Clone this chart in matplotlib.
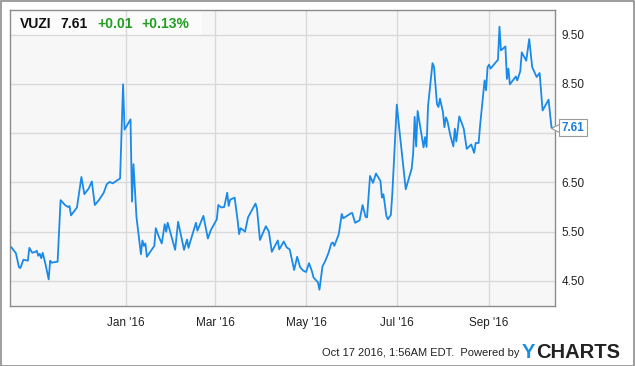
import matplotlib.pyplot as plt
from matplotlib.patches import Rectangle
import pandas as pd

# VUZI daily close
dates = [
    '2015-10-16', '2015-10-19', '2015-10-21', '2015-10-22', '2015-10-24', '2015-10-27',
    '2015-10-28', '2015-10-30', '2015-11-01', '2015-11-02', '2015-11-03', '2015-11-04',
    '2015-11-05', '2015-11-06', '2015-11-08', '2015-11-10', '2015-11-11', '2015-11-12',
    '2015-11-16', '2015-11-18', '2015-11-21', '2015-11-23', '2015-11-24', '2015-11-25',
    '2015-11-29', '2015-12-02', '2015-12-04', '2015-12-07', '2015-12-09', '2015-12-11',
    '2015-12-14', '2015-12-17', '2015-12-19', '2015-12-21', '2015-12-23', '2015-12-28',
    '2015-12-30', '2015-12-31', '2016-01-04', '2016-01-05', '2016-01-06', '2016-01-08',
    '2016-01-11', '2016-01-12', '2016-01-13', '2016-01-14', '2016-01-15', '2016-01-20',
    '2016-01-21', '2016-01-23', '2016-01-25', '2016-01-27', '2016-01-28', '2016-01-29',
    '2016-02-03', '2016-02-05', '2016-02-09', '2016-02-11', '2016-02-12', '2016-02-13',
    '2016-02-17', '2016-02-18', '2016-02-22', '2016-02-25', '2016-02-27', '2016-03-02',
    '2016-03-03', '2016-03-05', '2016-03-07', '2016-03-09', '2016-03-10', '2016-03-11',
    '2016-03-14', '2016-03-16', '2016-03-17', '2016-03-18', '2016-03-21', '2016-03-23',
    '2016-03-28', '2016-03-29', '2016-03-31', '2016-04-02', '2016-04-04', '2016-04-06',
    '2016-04-08', '2016-04-12', '2016-04-13', '2016-04-16', '2016-04-18', '2016-04-20',
    '2016-04-23', '2016-04-25', '2016-04-27', '2016-04-29', '2016-05-01', '2016-05-03',
    '2016-05-05', '2016-05-06', '2016-05-09', '2016-05-10', '2016-05-12', '2016-05-14',
    '2016-05-16', '2016-05-18', '2016-05-19', '2016-05-20', '2016-05-23', '2016-05-25',
    '2016-05-26', '2016-05-31', '2016-06-01', '2016-06-03', '2016-06-06', '2016-06-08',
    '2016-06-10', '2016-06-11', '2016-06-13', '2016-06-15', '2016-06-17', '2016-06-20',
    '2016-06-21', '2016-06-22', '2016-06-24', '2016-06-25', '2016-06-27', '2016-06-28',
    '2016-07-01', '2016-07-03', '2016-07-07', '2016-07-11', '2016-07-12', '2016-07-13',
    '2016-07-14', '2016-07-15', '2016-07-19', '2016-07-20', '2016-07-21', '2016-07-22',
    '2016-07-25', '2016-07-26', '2016-07-28', '2016-07-29', '2016-07-30', '2016-08-01',
    '2016-08-02', '2016-08-03', '2016-08-04', '2016-08-06', '2016-08-08', '2016-08-09',
    '2016-08-10', '2016-08-12', '2016-08-15', '2016-08-17', '2016-08-20', '2016-08-22',
    '2016-08-23', '2016-08-25', '2016-08-26', '2016-08-29', '2016-08-30', '2016-08-31',
    '2016-09-01', '2016-09-02', '2016-09-07', '2016-09-08', '2016-09-09', '2016-09-12',
    '2016-09-13', '2016-09-14', '2016-09-15', '2016-09-19', '2016-09-20', '2016-09-22',
    '2016-09-23', '2016-09-26', '2016-09-28', '2016-09-30', '2016-10-03', '2016-10-05',
    '2016-10-07', '2016-10-11', '2016-10-13', '2016-10-14',
]
prices = [
    5.18, 5.06, 4.78, 4.76, 4.93, 4.91,
    5.17, 5.07, 5.09, 5.11, 5.01, 5.05,
    4.96, 5.07, 4.82, 4.53, 4.91, 4.87,
    4.89, 6.14, 6.04, 6.00, 6.02, 5.83,
    5.99, 6.61, 6.26, 6.38, 6.52, 6.04,
    6.15, 6.29, 6.46, 6.51, 6.48, 6.58,
    8.49, 7.57, 7.78, 6.11, 6.87, 5.80,
    5.04, 5.32, 5.21, 5.26, 4.99, 5.21,
    5.57, 5.40, 5.26, 5.65, 5.50, 5.68,
    5.13, 5.70, 5.13, 5.34, 5.17, 5.28,
    5.68, 5.52, 5.82, 5.36, 5.53, 5.75,
    6.04, 5.99, 6.00, 6.29, 6.02, 6.15,
    6.19, 5.73, 5.45, 5.57, 5.50, 5.79,
    6.07, 5.97, 5.33, 5.47, 5.61, 5.50,
    5.09, 5.32, 5.14, 5.30, 5.18, 5.14,
    4.72, 4.99, 4.78, 4.71, 4.68, 4.86,
    4.69, 4.57, 4.47, 4.32, 4.79, 4.91,
    5.06, 5.26, 5.28, 5.21, 5.45, 5.86,
    5.77, 5.87, 5.88, 5.68, 5.73, 6.04,
    5.80, 5.79, 6.63, 6.49, 6.68, 6.53,
    6.19, 6.26, 5.82, 5.75, 5.84, 6.28,
    8.08, 7.49, 6.36, 6.78, 7.09, 7.83,
    7.23, 7.95, 7.21, 7.42, 7.22, 8.05,
    8.92, 8.85, 8.09, 8.03, 8.20, 7.93,
    7.62, 7.82, 7.75, 7.45, 7.23, 7.59,
    7.33, 7.84, 7.59, 7.18, 7.27, 7.10,
    7.30, 7.30, 7.66, 8.57, 8.37, 8.84,
    8.89, 8.81, 8.99, 9.66, 9.18, 9.26,
    8.60, 8.81, 8.49, 8.65, 8.57, 8.76,
    9.14, 8.97, 9.41, 8.84, 8.64, 8.72,
    7.96, 8.18, 7.61, 7.61,
]

ticker = 'VUZI'
lastPrice = '7.61'
change = '+0.01'
changePct = '+0.13%'
yTicks = [4.5, 5.5, 6.5, 7.5, 8.5, 9.5]
# the 7.50 label sits under the last-price tag in the original
yTickLabels = ['4.50', '5.50', '6.50', '', '8.50', '9.50']
xTickDates = ['2016-01-01', '2016-03-01', '2016-05-01', '2016-07-01', '2016-09-01']
xTickLabels = ["Jan '16", "Mar '16", "May '16", "Jul '16", "Sep '16"]
footer = 'Oct 17 2016, 1:56AM EDT.  Powered by'

linecolor = '#1a8ae8'
gridcolor = '#d9d9d9'
facecolor = '#f7f7f7'
green = '#1f9e1f'

plt.rcParams['font.family'] = ['Liberation Sans', 'DejaVu Sans']

x = pd.to_datetime(dates)

fig = plt.figure(figsize=(6.35, 3.66), dpi=100, facecolor='white')
ax = fig.add_axes([10/635, 1-306/366, 544.5/635, 296/366])
ax.set_facecolor(facecolor)
ax.plot(x, prices, color=linecolor, linewidth=1.3, zorder=3)

ax.set_xlim(pd.Timestamp('2015-10-15'), pd.Timestamp('2016-10-15'))
ax.set_ylim(3.99, 10.0)

ax.set_xticks(pd.to_datetime(xTickDates))
ax.set_xticklabels(xTickLabels, fontsize=8.5, color='#222222')
ax.set_yticks(yTicks)
ax.set_yticklabels(yTickLabels, fontsize=8.5, color='#222222')
ax.yaxis.tick_right()
ax.tick_params(axis='both', length=0, pad=5)
ax.tick_params(axis='x', pad=8)

ax.set_axisbelow(True)
ax.grid(color=gridcolor, linestyle='-', linewidth=1.0)
for side in ['top', 'bottom', 'left', 'right']:
    ax.spines[side].set_color('#8c8c8c')
    ax.spines[side].set_linewidth(1.0)

# header box
ax.add_patch(Rectangle((0, 1-25/296), 192/544.5, 25/296, transform=ax.transAxes,
                       facecolor='white', alpha=0.55, edgecolor='none', zorder=0.4))
ty = 1-28/366
fig.text(20/635, ty, ticker, fontsize=10, fontweight='bold', color='#111111', va='baseline')
fig.text(60/635, ty, lastPrice, fontsize=10, fontweight='bold', color='#111111', va='baseline')
fig.text(97/635, ty, change, fontsize=10, fontweight='bold', color=green, va='baseline')
fig.text(141/635, ty, changePct, fontsize=10, fontweight='bold', color=green, va='baseline')

# last price tag: small pointer plus boxed label
lastY = float(lastPrice)
ax.plot([1.0], [lastY], marker='<', markersize=6, markerfacecolor='white',
        markeredgecolor='#9a9a9a', markeredgewidth=0.8, clip_on=False, zorder=4,
        transform=ax.get_yaxis_transform())
ax.annotate(lastPrice, xy=(1.0, lastY), xycoords=('axes fraction', 'data'),
            xytext=(5, 0), textcoords='offset points', va='center', ha='left',
            fontsize=8.5, fontweight='bold', color='#1a7fdc', annotation_clip=False,
            bbox=dict(boxstyle='square,pad=0.2', facecolor='white', edgecolor='#9a9a9a',
                      linewidth=0.8), zorder=5)

# footer
fig.text(520/635, 1-353/366, footer, fontsize=8, color='#222222', ha='right', va='center')
fig.text(522/635, 1-352/366, 'Y', fontsize=14.5, fontweight='bold', color='#1a8fe3', va='center')
fig.text(536/635, 1-352/366, 'CHARTS', fontsize=14.5, fontweight='bold', color='#222222', va='center')

fig.add_artist(Rectangle((0.5/635, 0.5/366), 633.5/635, 364.5/366, transform=fig.transFigure,
                         facecolor='none', edgecolor='#8c8c8c', linewidth=1.2))

plt.savefig('out.png', dpi=100, facecolor='white')
